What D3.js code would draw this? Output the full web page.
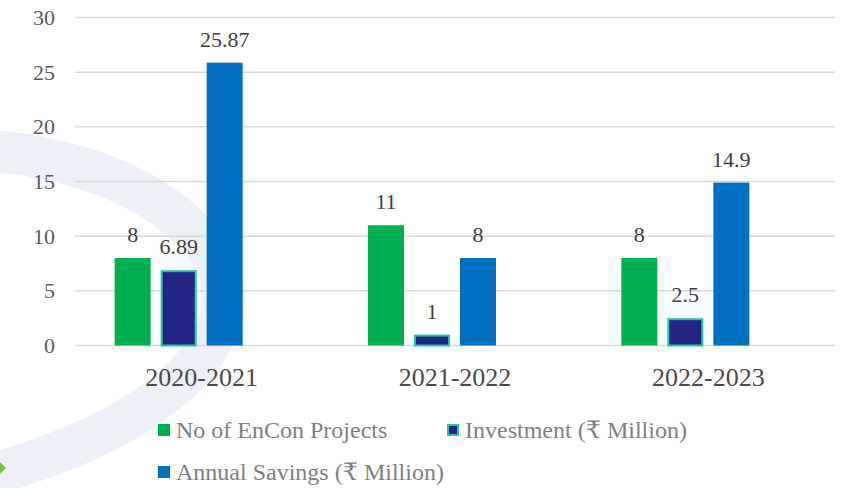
<!DOCTYPE html>
<html>
<head>
<meta charset="utf-8">
<script src="https://cdn.jsdelivr.net/npm/d3@7"></script>
<style>
  html, body { margin: 0; padding: 0; background: #fff; }
  #chart { width: 846px; height: 488px; }
  svg text { font-family: "Liberation Serif", "Times New Roman", Tinos, "DejaVu Serif", serif; }
</style>
</head>
<body>
<div id="chart"></div>
<script>
const years = ["2020-2021", "2021-2022", "2022-2023"];
const seriesNames = ["No of EnCon Projects", "Investment (₹ Million)", "Annual Savings (₹ Million)"];
const projects = [8, 11, 8];
const investment = [6.89, 1, 2.5];
const savings = [25.87, 8, 14.9];
const yTicks = [0, 5, 10, 15, 20, 25, 30];

const seriesColors = ["#00b050", "#242487", "#0070c0"];
const seriesStroke = [null, "#20c8a0", null];

const seriesValues = [projects, investment, savings];

renderChart();

function renderChart() {
  const width = 846, height = 488;
  const svg = d3.select("#chart").append("svg")
    .attr("width", width)
    .attr("height", height);

  // faint watermark arc in the background
  svg.append("path")
    .attr("d", "M -20,150 C 150,160 255,255 215,335 C 180,405 80,450 -20,478")
    .attr("fill", "none")
    .attr("stroke", "#e6ebf3")
    .attr("stroke-width", 42)
    .attr("opacity", 0.7);
  svg.append("path")
    .attr("d", "M 0,462 L 6,468 L 0,474 Z")
    .attr("fill", "#7cc142");

  const x0 = d3.scaleBand()
    .domain(years)
    .range([75, 835])
    .paddingInner(0.313)
    .paddingOuter(0.1565);

  // 4th slot is an empty series, as in the original chart
  const x1 = d3.scaleBand()
    .domain([0, 1, 2, 3])
    .range([0, x0.bandwidth()])
    .paddingInner(0.217);

  const y = d3.scaleLinear()
    .domain([0, 30])
    .range([345.5, 17.5]);

  // grid
  svg.append("g")
    .selectAll("line")
    .data(yTicks)
    .enter()
    .append("line")
    .attr("x1", 75)
    .attr("x2", 835)
    .attr("y1", d => y(d))
    .attr("y2", d => y(d))
    .attr("stroke", "#d9d9d9")
    .attr("stroke-width", 1.5);

  // y tick labels
  svg.append("g")
    .selectAll("text")
    .data(yTicks)
    .enter()
    .append("text")
    .attr("x", 55)
    .attr("y", d => y(d))
    .attr("dy", "0.34em")
    .attr("text-anchor", "end")
    .attr("font-size", "22px")
    .attr("fill", "#595959")
    .text(d => d);

  // category labels
  svg.append("g")
    .selectAll("text")
    .data(years)
    .enter()
    .append("text")
    .attr("x", d => x0(d) - x0.step() * x0.paddingInner() / 2 + x0.step() / 2)
    .attr("y", 386)
    .attr("text-anchor", "middle")
    .attr("font-size", "26px")
    .attr("fill", "#4a4a4a")
    .text(d => d);

  // bars
  const bars = [];
  seriesValues.forEach((vals, s) => {
    vals.forEach((v, i) => bars.push({ s, year: years[i], value: v }));
  });

  svg.append("g")
    .selectAll("rect")
    .data(bars)
    .enter()
    .append("rect")
    .attr("x", d => x0(d.year) + x1(d.s) + (seriesStroke[d.s] ? 1 : 0))
    .attr("y", d => y(d.value) + (seriesStroke[d.s] ? 1 : 0))
    .attr("width", d => x1.bandwidth() - (seriesStroke[d.s] ? 2 : 0))
    .attr("height", d => y(0) - y(d.value) - (seriesStroke[d.s] ? 1 : 0))
    .attr("fill", d => seriesColors[d.s])
    .attr("stroke", d => seriesStroke[d.s] || "none")
    .attr("stroke-width", 2);

  // value labels
  svg.append("g")
    .selectAll("text")
    .data(bars)
    .enter()
    .append("text")
    .attr("x", d => x0(d.year) + x1(d.s) + x1.bandwidth() / 2)
    .attr("y", d => y(d.value) - 16)
    .attr("text-anchor", "middle")
    .attr("font-size", "22px")
    .attr("fill", "#404040")
    .text(d => d.value);

  // legend
  const legendPos = [
    { x: 158, y: 430 },
    { x: 447, y: 430 },
    { x: 158, y: 472 }
  ];
  const legend = svg.append("g")
    .selectAll("g")
    .data(seriesNames)
    .enter()
    .append("g")
    .attr("transform", (d, i) => `translate(${legendPos[i].x},${legendPos[i].y})`);

  legend.append("rect")
    .attr("x", (d, i) => seriesStroke[i] ? 1 : 0)
    .attr("y", (d, i) => seriesStroke[i] ? -5 : -6)
    .attr("width", (d, i) => seriesStroke[i] ? 10 : 12)
    .attr("height", (d, i) => seriesStroke[i] ? 10 : 12)
    .attr("fill", (d, i) => seriesColors[i])
    .attr("stroke", (d, i) => seriesStroke[i] || "none")
    .attr("stroke-width", 2);

  legend.append("text")
    .attr("x", 18)
    .attr("y", 0)
    .attr("dy", "0.34em")
    .attr("font-size", "24px")
    .attr("fill", "#7f7f7f")
    .text(d => d);
}
</script>
</body>
</html>
